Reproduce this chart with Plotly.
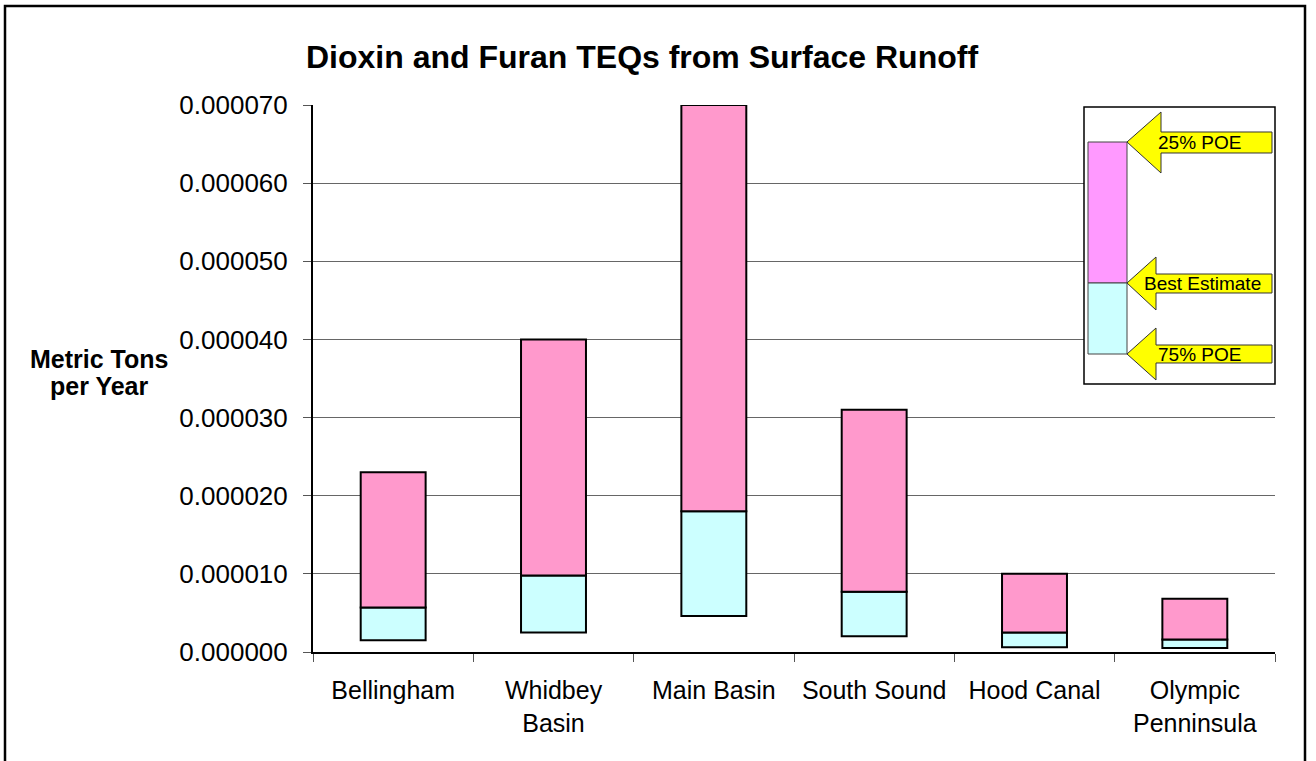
import plotly.graph_objects as go

categories = ["Bellingham", "Whidbey Basin", "Main Basin", "South Sound", "Hood Canal", "Olympic Penninsula"]
tick_labels = ["Bellingham", "Whidbey<br>Basin", "Main Basin", "South Sound", "Hood Canal", "Olympic<br>Penninsula"]
poe75 = [1.5e-6, 2.5e-6, 4.6e-6, 2.0e-6, 0.6e-6, 0.5e-6]
best = [5.7e-6, 9.8e-6, 18.0e-6, 7.7e-6, 2.5e-6, 1.6e-6]
poe25 = [23.0e-6, 40.0e-6, 70.0e-6, 31.0e-6, 10.0e-6, 6.8e-6]

W, H = 1316, 761
L, R, T, B = 313, 1275, 105, 652
FONT = "Liberation Sans, Arial, sans-serif"


def X(px):
    return (px - L) / (R - L)


def Y(py):
    return (B - py) / (B - T)


fig = go.Figure()
fig.add_trace(go.Bar(
    x=categories, y=[b - l for b, l in zip(best, poe75)], base=poe75,
    marker=dict(color="#CCFFFF", line=dict(color="black", width=2)),
    width=0.405, showlegend=False, hoverinfo="skip"))
fig.add_trace(go.Bar(
    x=categories, y=[h - b for h, b in zip(poe25, best)], base=best,
    marker=dict(color="#FF99CC", line=dict(color="black", width=2)),
    width=0.405, showlegend=False, hoverinfo="skip"))

shapes = []
# outer frame
shapes.append(dict(type="rect", xref="paper", yref="paper",
                   x0=X(5), x1=X(1305), y0=Y(6), y1=Y(775),
                   line=dict(color="black", width=2.5), fillcolor="rgba(0,0,0,0)", layer="above"))
# legend box
shapes.append(dict(type="rect", xref="paper", yref="paper",
                   x0=X(1084), x1=X(1275), y0=Y(107), y1=Y(384),
                   line=dict(color="black", width=1.5), fillcolor="white", layer="above"))
shapes.append(dict(type="rect", xref="paper", yref="paper",
                   x0=X(1088), x1=X(1127), y0=Y(142), y1=Y(283),
                   line=dict(color="#444", width=1), fillcolor="#FF99FF", layer="above"))
shapes.append(dict(type="rect", xref="paper", yref="paper",
                   x0=X(1088), x1=X(1127), y0=Y(283), y1=Y(354),
                   line=dict(color="#444", width=1), fillcolor="#CCFFFF", layer="above"))


def arrow(tip_y, back_x, head_top, head_bot, sh_top, sh_bot):
    pts = [(1127, tip_y), (back_x, head_top), (back_x, sh_top), (1272, sh_top),
           (1272, sh_bot), (back_x, sh_bot), (back_x, head_bot)]
    path = "M " + " L ".join(f"{X(px):.5f},{Y(py):.5f}" for px, py in pts) + " Z"
    return dict(type="path", xref="paper", yref="paper", path=path,
                fillcolor="#FFFF00", line=dict(color="#333", width=1), layer="above")


shapes.append(arrow(142, 1161, 112, 173, 132, 153))
shapes.append(arrow(283, 1156, 257, 310, 274, 293))
shapes.append(arrow(354, 1156, 328, 380, 345, 363))

annotations = [
    dict(text="<b>Dioxin and Furan TEQs from Surface Runoff</b>", xref="paper", yref="paper",
         x=X(642), y=Y(57), showarrow=False, font=dict(family=FONT, size=32, color="black"),
         xanchor="center", yanchor="middle"),
    dict(text="<b>Metric Tons</b>", xref="paper", yref="paper",
         x=X(99), y=Y(359), showarrow=False, font=dict(family=FONT, size=25, color="black"),
         xanchor="center", yanchor="middle"),
    dict(text="<b>per Year</b>", xref="paper", yref="paper",
         x=X(99), y=Y(386), showarrow=False, font=dict(family=FONT, size=25, color="black"),
         xanchor="center", yanchor="middle"),
    dict(text="25% POE", xref="paper", yref="paper", x=X(1199), y=Y(142), showarrow=False,
         font=dict(family=FONT, size=19, color="black"), xanchor="center", yanchor="middle"),
    dict(text="Best Estimate", xref="paper", yref="paper", x=X(1202), y=Y(283), showarrow=False,
         font=dict(family=FONT, size=19, color="black"), xanchor="center", yanchor="middle"),
    dict(text="75% POE", xref="paper", yref="paper", x=X(1199), y=Y(354), showarrow=False,
         font=dict(family=FONT, size=19, color="black"), xanchor="center", yanchor="middle"),
]

fig.update_layout(
    width=W, height=H,
    margin=dict(l=L, r=W - R, t=T, b=H - B, autoexpand=False),
    paper_bgcolor="white", plot_bgcolor="white",
    barmode="overlay",
    shapes=shapes, annotations=annotations,
    font=dict(family=FONT, color="black"),
    xaxis=dict(type="category", tickvals=categories, ticktext=tick_labels,
               tickson="boundaries", ticks="outside", ticklen=8, tickcolor="#555", tickwidth=1,
               ticklabelstandoff=15,
               showline=True, linecolor="black", linewidth=2, showgrid=False,
               tickfont=dict(family=FONT, size=25, color="black"), range=[-0.5, 5.5]),
    yaxis=dict(range=[0, 7e-5], dtick=1e-5, tickformat=".6f", ticks="outside", ticklen=8,
               tickcolor="#555", tickwidth=1, showline=True, linecolor="black", linewidth=2,
               ticklabelstandoff=10,
               showgrid=True, gridcolor="#666", gridwidth=1, zeroline=False,
               tickfont=dict(family=FONT, size=26, color="black")),
)

fig.write_html("out.html", config={"displayModeBar": False},
               post_script="document.body.style.margin='0px';")
